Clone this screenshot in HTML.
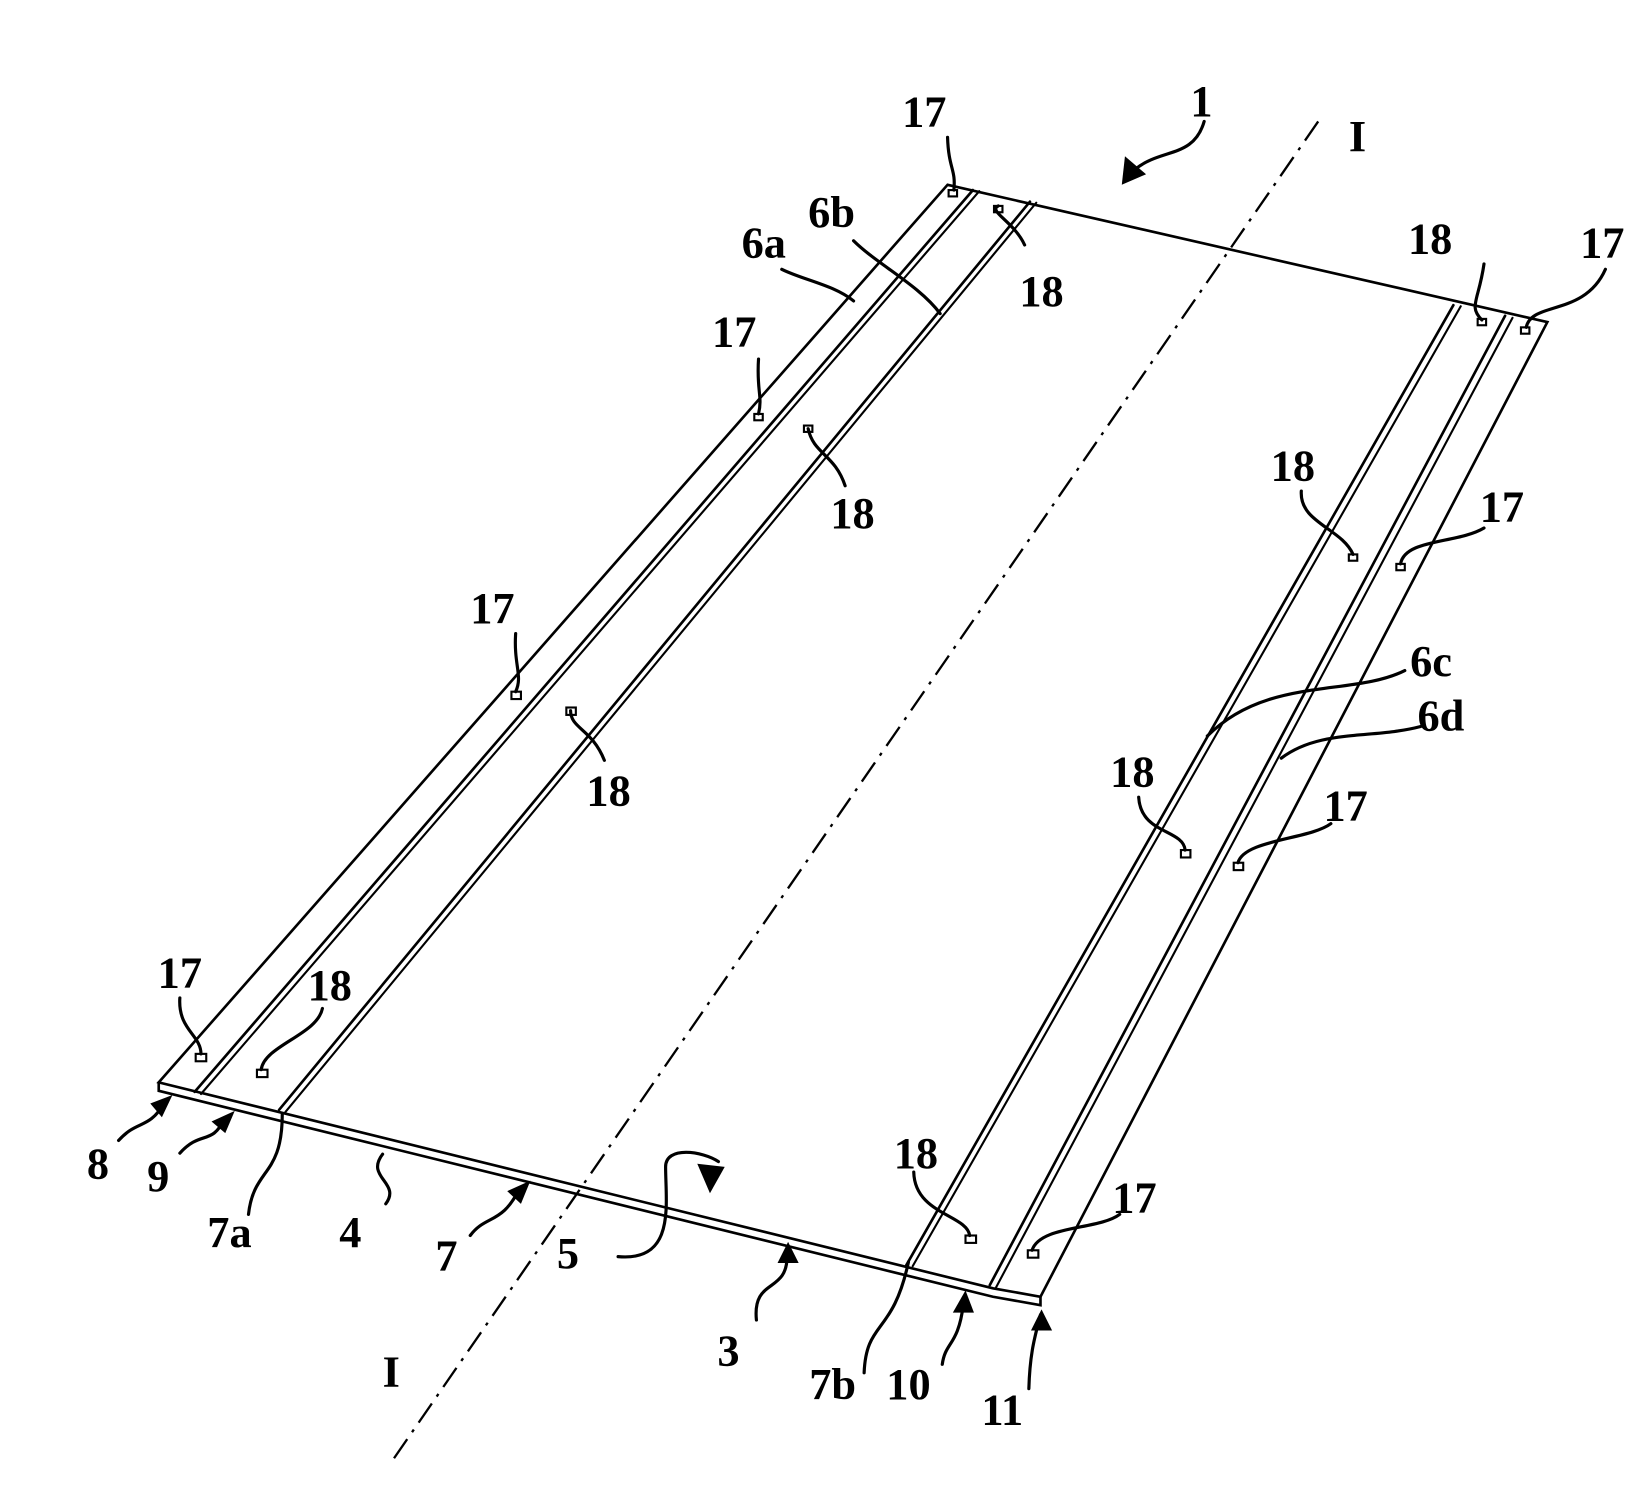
<!DOCTYPE html>
<html><head><meta charset="utf-8"><style>
html,body{margin:0;padding:0;background:#fff;}
svg{display:block}
text{font-family:"Liberation Serif",serif;font-weight:bold;font-size:42px;fill:#000}
</style></head><body>
<svg width="1648" height="1509" viewBox="0 0 1560 1429" xmlns="http://www.w3.org/2000/svg">
<g stroke="#000" fill="none" stroke-width="2.5" stroke-linecap="round">
<path d="M897,175 L1465,305 L985,1228 L940,1220 L150,1025 Z"/>
<path d="M150,1025 L150,1033 L940,1228 L985,1236 L985,1228"/>
<line x1="921" y1="180" x2="184" y2="1034" stroke-width="2.5"/>
<line x1="927" y1="181" x2="190" y2="1036" stroke-width="2"/>
<line x1="975" y1="191" x2="264" y2="1051" stroke-width="2.5"/>
<line x1="981" y1="192" x2="270" y2="1053" stroke-width="2"/>
<line x1="1376" y1="289" x2="858" y2="1198" stroke-width="2.5"/>
<line x1="1383" y1="290" x2="864" y2="1199" stroke-width="2"/>
<line x1="1425" y1="299" x2="937" y2="1217" stroke-width="2.5"/>
<line x1="1432" y1="301" x2="943" y2="1219" stroke-width="2"/>
<line x1="1248" y1="115" x2="370" y2="1385" stroke-width="2.2" stroke-dasharray="22,8,3,8" stroke-linecap="butt"/>
<g stroke-width="2">
<rect x="898" y="180" width="8" height="6"/><rect x="714" y="392" width="8" height="6"/>
<rect x="484" y="655" width="9" height="7"/><rect x="185" y="998" width="10" height="7"/>
<rect x="1440" y="310" width="8" height="6"/><rect x="1322" y="534" width="8" height="6"/>
<rect x="1168" y="817" width="9" height="7"/><rect x="973" y="1184" width="10" height="7"/>
<rect x="941" y="195" width="8" height="6"/><rect x="761" y="403" width="8" height="6"/>
<rect x="536" y="670" width="9" height="7"/><rect x="243" y="1013" width="10" height="7"/>
<rect x="1399" y="302" width="8" height="6"/><rect x="1277" y="525" width="8" height="6"/>
<rect x="1118" y="805" width="9" height="7"/><rect x="914" y="1170" width="10" height="7"/>
</g>
<g stroke-width="3">
<path d="M1140,115 C1130,150 1100,140 1075,160"/>
<path d="M897,130 C898,160 905,160 903,180"/>
<path d="M945,195 C935,200 960,210 970,232"/>
<path d="M1405,250 C1400,285 1390,290 1403,303"/>
<path d="M1520,255 C1500,300 1450,285 1445,310"/>
<path d="M718,340 C716,370 722,375 718,392"/>
<path d="M765,406 C770,430 790,430 800,460"/>
<path d="M488,600 C486,630 495,640 488,655"/>
<path d="M540,673 C540,690 560,690 572,720"/>
<path d="M1232,465 C1230,495 1270,500 1281,525"/>
<path d="M1405,500 C1380,515 1330,510 1326,534"/>
<path d="M1078,755 C1080,790 1120,785 1122,805"/>
<path d="M1260,780 C1240,795 1178,795 1172,817"/>
<path d="M170,945 C168,975 190,980 190,998"/>
<path d="M305,955 C300,980 250,990 247,1013"/>
<path d="M865,1110 C866,1150 915,1150 918,1170"/>
<path d="M1060,1150 C1040,1165 985,1160 977,1184"/>
<path d="M808,285 C790,270 760,265 740,255"/>
<path d="M890,297 C870,270 830,250 808,228"/>
<path d="M1143,697 C1200,640 1280,660 1330,635"/>
<path d="M1213,718 C1250,690 1300,700 1345,688"/>
<path d="M112,1080 C130,1060 140,1070 155,1045"/>
<path d="M170,1092 C190,1070 200,1085 212,1060"/>
<path d="M235,1150 C240,1105 267,1115 267,1055"/>
<path d="M365,1140 C380,1120 345,1115 362,1093"/>
<path d="M445,1170 C460,1150 475,1160 492,1125"/>
<path d="M585,1190 C640,1195 630,1140 630,1105 C630,1085 665,1090 680,1100"/>
<path d="M716,1250 C712,1210 745,1225 745,1190"/>
<path d="M818,1300 C820,1250 845,1265 860,1195"/>
<path d="M892,1292 C895,1270 907,1275 912,1235"/>
<path d="M974,1315 C975,1280 980,1265 985,1245"/>
</g>
<g fill="#000" stroke="none">
<polygon points="1062,175 1065,148 1085,165"/>
<polygon points="163,1037 142,1045 153,1058"/>
<polygon points="222,1052 200,1062 213,1073"/>
<polygon points="502,1118 480,1128 493,1140"/>
<polygon points="672,1130 660,1102 686,1105"/>
<polygon points="746,1176 736,1196 756,1196"/>
<polygon points="914,1222 902,1243 922,1243"/>
<polygon points="986,1240 976,1260 996,1260"/>
</g>
</g>
<text x="1127" y="110">1</text>
<text x="1277" y="143">I</text>
<text x="854" y="120">17</text>
<text x="765" y="215">6b</text>
<text x="702" y="244">6a</text>
<text x="965" y="290">18</text>
<text x="1333" y="240">18</text>
<text x="1496" y="244">17</text>
<text x="674" y="328">17</text>
<text x="786" y="500">18</text>
<text x="445" y="590">17</text>
<text x="555" y="763">18</text>
<text x="1203" y="455">18</text>
<text x="1401" y="494">17</text>
<text x="1335" y="640">6c</text>
<text x="1342" y="692">6d</text>
<text x="1051" y="745">18</text>
<text x="1253" y="777">17</text>
<text x="149" y="935">17</text>
<text x="291" y="947">18</text>
<text x="82" y="1116">8</text>
<text x="139" y="1128">9</text>
<text x="196" y="1181">7a</text>
<text x="321" y="1181">4</text>
<text x="412" y="1203">7</text>
<text x="527" y="1201">5</text>
<text x="679" y="1293">3</text>
<text x="846" y="1106">18</text>
<text x="1053" y="1148">17</text>
<text x="766" y="1325">7b</text>
<text x="839" y="1325">10</text>
<text x="929" y="1349">11</text>
<text x="362" y="1313">I</text>
</svg>
</body></html>
